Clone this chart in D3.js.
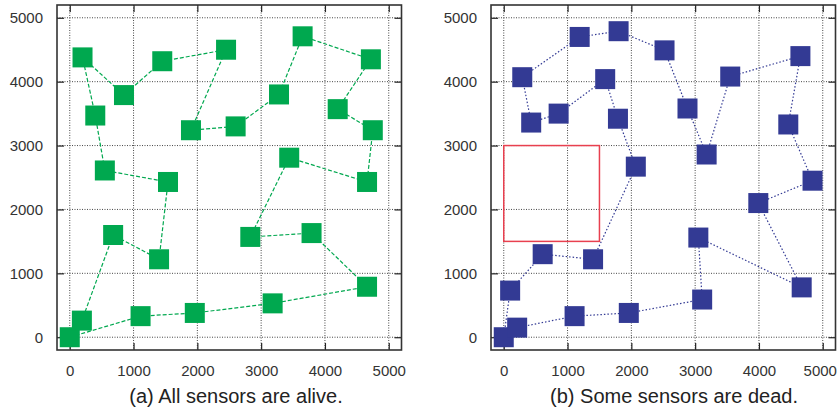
<!DOCTYPE html>
<html>
<head>
<meta charset="utf-8">
<script src="https://cdn.jsdelivr.net/npm/d3@7"></script>
<style>
  body { margin: 0; background: #fff; }
  svg { display: block; font-family: "Liberation Sans", Arial, sans-serif; }
</style>
</head>
<body>
<div id="chart"></div>
<script>
// sensor positions, listed in the order the route visits them (closed loop)
const aliveX = [0, 1110, 1960, 3180, 4660, 3790, 2830, 3440, 4660, 4750, 4200, 4720, 3650, 3280, 2600, 1900, 2450, 1450, 850, 200, 400, 550, 1540, 1400, 680, 190];
const aliveY = [0, 330, 380, 530, 790, 1630, 1570, 2810, 2430, 3240, 3570, 4350, 4710, 3800, 3300, 3240, 4500, 4320, 3790, 4380, 3470, 2610, 2430, 1220, 1600, 260];

const deadX = [0, 100, 610, 1400, 2070, 1790, 1590, 860, 430, 290, 1190, 1800, 2520, 2880, 3180, 3550, 4650, 4460, 4840, 3990, 4670, 3050, 3110, 1960, 1110, 210];
const deadY = [0, 730, 1300, 1220, 2670, 3420, 4040, 3500, 3360, 4070, 4700, 4790, 4490, 3580, 2860, 4080, 4400, 3330, 2450, 2100, 780, 1560, 590, 380, 330, 150];

// dead area in panel (b): [x0, y0, x1, y1]
const deadZone = [0, 1500, 1500, 3000];

const tickValues = [0, 1000, 2000, 3000, 4000, 5000];
const captions = ["(a) All sensors are alive.", "(b) Some sensors are dead."];

const W = 838, H = 412;
const svg = d3.select("#chart").append("svg")
    .attr("width", W)
    .attr("height", H);

const plotTop = 5, plotBottom = 350;
const panels = [
    { left: 57, right: 401.5, xs: aliveX, ys: aliveY, color: "#00a84f", dash: "4,2", caption: captions[0], capX: 236 },
    { left: 491, right: 835.5, xs: deadX, ys: deadY, color: "#333a94", dash: "1.5,2", caption: captions[1], capX: 674 }
];

panels.forEach((p, idx) => {
    const x = d3.scaleLinear().domain([-200, 5200]).range([p.left, p.right]);
    const y = d3.scaleLinear().domain([-200, 5200]).range([plotBottom, plotTop]);
    const g = svg.append("g");

    // dotted grid
    g.selectAll(".vgrid").data(tickValues).enter().append("line")
        .attr("x1", d => x(d)).attr("x2", d => x(d))
        .attr("y1", plotTop).attr("y2", plotBottom)
        .attr("stroke", "#333").attr("stroke-width", 0.9)
        .attr("stroke-dasharray", "1,1.5");
    g.selectAll(".hgrid").data(tickValues).enter().append("line")
        .attr("y1", d => y(d)).attr("y2", d => y(d))
        .attr("x1", p.left).attr("x2", p.right)
        .attr("stroke", "#333").attr("stroke-width", 0.9)
        .attr("stroke-dasharray", "1,1.5");

    // axes with inward ticks on every side
    const tl = 7;
    const fmt = d3.format("d");
    const xAxis = g.append("g").attr("transform", `translate(0,${plotBottom})`)
        .call(d3.axisBottom(x).tickValues(tickValues).tickFormat(fmt).tickSize(-tl).tickPadding(tl + 8));
    g.append("g").attr("transform", `translate(0,${plotTop})`)
        .call(d3.axisTop(x).tickValues(tickValues).tickSize(-tl).tickFormat(""));
    g.append("g").attr("transform", `translate(${p.left},0)`)
        .call(d3.axisLeft(y).tickValues(tickValues).tickFormat(fmt).tickSize(-tl).tickPadding(tl + 7));
    g.append("g").attr("transform", `translate(${p.right},0)`)
        .call(d3.axisRight(y).tickValues(tickValues).tickSize(-tl).tickFormat(""));

    g.selectAll(".domain").remove();
    g.selectAll(".tick line").attr("stroke", "#222").attr("stroke-width", 1.2);
    g.selectAll(".tick text")
        .attr("fill", "#333")
        .attr("font-size", "15px")
        .attr("font-family", "'Liberation Sans', Arial, sans-serif");

    // keep the last label of the right panel inside the page
    if (idx === 1) {
        xAxis.selectAll(".tick text").filter(d => d === 5000).attr("dx", -3);
    }

    // frame
    g.append("rect")
        .attr("x", p.left).attr("y", plotTop)
        .attr("width", p.right - p.left).attr("height", plotBottom - plotTop)
        .attr("fill", "none").attr("stroke", "#333").attr("stroke-width", 1.6);

    // route
    const pts = p.xs.map((v, i) => [v, p.ys[i]]);
    g.append("path")
        .datum(pts)
        .attr("d", d3.line().x(d => x(d[0])).y(d => y(d[1])).curve(d3.curveLinearClosed))
        .attr("fill", "none")
        .attr("stroke", p.color)
        .attr("stroke-width", 1.2)
        .attr("stroke-dasharray", p.dash);

    // sensors
    const s = 20;
    g.selectAll(".sensor").data(pts).enter().append("rect")
        .attr("x", d => x(d[0]) - s / 2)
        .attr("y", d => y(d[1]) - s / 2)
        .attr("width", s).attr("height", s)
        .attr("fill", p.color);

    if (idx === 1) {
        g.append("rect")
            .attr("x", x(deadZone[0]))
            .attr("y", y(deadZone[3]))
            .attr("width", x(deadZone[2]) - x(deadZone[0]))
            .attr("height", y(deadZone[1]) - y(deadZone[3]))
            .attr("fill", "none")
            .attr("stroke", "#e8404f")
            .attr("stroke-width", 1.5);
    }

    svg.append("text")
        .attr("x", p.capX)
        .attr("y", 403)
        .attr("text-anchor", "middle")
        .attr("font-size", "20px")
        .attr("fill", "#222")
        .text(p.caption);
});
</script>
</body>
</html>
